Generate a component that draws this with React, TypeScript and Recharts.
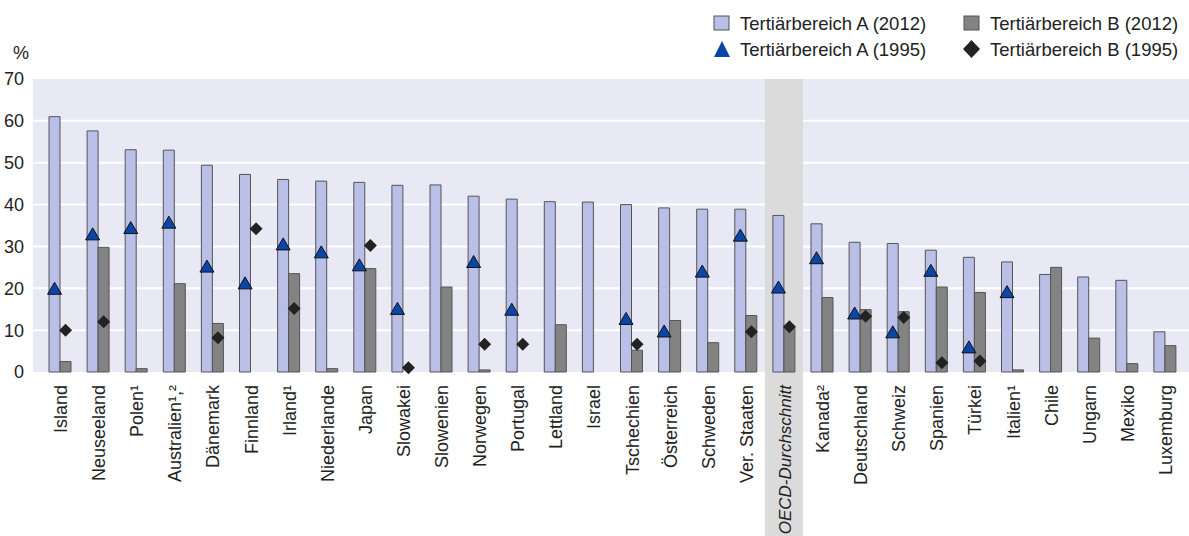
import { ComposedChart, Bar, Line, XAxis, YAxis, CartesianGrid, ReferenceArea } from 'recharts';

const countries = ['Island', 'Neuseeland', 'Polen¹', 'Australien¹,²', 'Dänemark', 'Finnland', 'Irland¹', 'Niederlande', 'Japan', 'Slowakei', 'Slowenien', 'Norwegen', 'Portugal', 'Lettland', 'Israel', 'Tschechien', 'Österreich', 'Schweden', 'Ver. Staaten', 'OECD-Durchschnitt', 'Kanada²', 'Deutschland', 'Schweiz', 'Spanien', 'Türkei', 'Italien¹', 'Chile', 'Ungarn', 'Mexiko', 'Luxemburg'];

const tertA2012 = [61, 57.6, 53.1, 53, 49.4, 47.2, 46, 45.6, 45.3, 44.6, 44.7, 42, 41.3, 40.7, 40.6, 40, 39.2, 38.9, 38.9, 37.4, 35.4, 31, 30.7, 29.1, 27.4, 26.3, 23.3, 22.7, 21.9, 9.6];
const tertB2012 = [2.5, 29.8, 0.8, 21.1, 11.6, null, 23.5, 0.8, 24.7, null, 20.3, 0.5, null, 11.3, null, 5.2, 12.3, 7, 13.5, 10.8, 17.8, 14.9, 14.4, 20.3, 19, 0.5, 25, 8.1, 2, 6.3];
const tertA1995 = [20, 33, 34.5, 35.8, 25.3, 21.3, 30.6, 28.7, 25.6, 15.2, null, 26.4, 15, null, null, 12.8, 9.8, 24.1, 32.7, 20.3, 27.3, 14.1, 9.6, 24.3, 6, 19.2, null, null, null, null];
const tertB1995 = [10, 12, null, null, 8.2, 34.2, 15.2, null, 30.2, 1, null, 6.6, 6.6, null, null, 6.6, null, null, 9.6, 10.8, null, 13.3, 13, 2.2, 2.6, null, null, null, null, null];

const yTicks = [0, 10, 20, 30, 40, 50, 60, 70];

const OECD = 'OECD-Durchschnitt';
const FONT = 'Liberation Sans';
const TEXT = '#222';
const LIGHT = '#b9bfe6';
const DARK = '#838383';
const BLUE = '#0b46a6';
const BAR = 11;

const data = countries.map((c, i) => ({
  country: c,
  a2012: tertA2012[i],
  b2012: tertB2012[i],
  a1995: tertA1995[i],
  b1995: tertB1995[i],
}));

const Triangle = (props: any) => {
  const { cx, cy, value } = props;
  if (value == null || cy == null) return <g key={props.key} />;
  const x = cx - BAR / 2;
  return (
    <path key={props.key} d={`M${x - 7},${cy + 6} L${x},${cy - 6} L${x + 7},${cy + 6} Z`} fill={BLUE} stroke="#111" strokeWidth={1} />
  );
};

const Diamond = (props: any) => {
  const { cx, cy, value } = props;
  if (value == null || cy == null) return <g key={props.key} />;
  const x = cx + BAR / 2;
  return (
    <path key={props.key} d={`M${x},${cy - 6.5} L${x + 6.5},${cy} L${x},${cy + 6.5} L${x - 6.5},${cy} Z`} fill="#222" />
  );
};

const CountryTick = (props: any) => {
  const { x, y, payload } = props;
  const isOecd = payload.value === OECD;
  return (
    <g>
      <text
        transform={`translate(${x + 7},${y + 5}) rotate(-90)`}
        textAnchor="end"
        fontSize={isOecd ? 17 : 18}
        fontFamily={FONT}
        fontStyle={isOecd ? 'italic' : 'normal'}
        fill={TEXT}
      >
        {payload.value}
      </text>
    </g>
  );
};

const legendItems = [
  { label: 'Tertiärbereich A (2012)', kind: 'light' },
  { label: 'Tertiärbereich B (2012)', kind: 'dark' },
  { label: 'Tertiärbereich A (1995)', kind: 'tri' },
  { label: 'Tertiärbereich B (1995)', kind: 'dia' },
];

const LegendBox = () => (
  <svg width={476} height={64} style={{ fontFamily: FONT, display: 'block' }}>
    {legendItems.map((it, i) => {
      const col = i % 2;
      const row = Math.floor(i / 2);
      const ix = col * 250;
      const iy = row * 26 + 17;
      let icon;
      if (it.kind === 'light') icon = <rect x={ix + 1} y={iy - 7} width={15} height={14} fill={LIGHT} stroke="#555" />;
      else if (it.kind === 'dark') icon = <rect x={ix + 1} y={iy - 7} width={15} height={14} fill={DARK} stroke="#555" />;
      else if (it.kind === 'tri') icon = <path d={`M${ix + 1},${iy + 8} L${ix + 9},${iy - 8} L${ix + 17},${iy + 8} Z`} fill={BLUE} />;
      else icon = <path d={`M${ix + 8.5},${iy - 9} L${ix + 17},${iy} L${ix + 8.5},${iy + 9} L${ix},${iy} Z`} fill="#222" />;
      return (
        <g key={it.label}>
          {icon}
          <text x={ix + 27} y={iy + 6.5} fontSize={18.5} fill={TEXT}>{it.label}</text>
        </g>
      );
    })}
  </svg>
);

export default function App() {
  return (
    <div style={{ position: 'absolute', left: 0, top: 0, width: 1189, height: 536, background: '#fff' }}>
      <ComposedChart
        width={1189}
        height={536}
        data={data}
        margin={{ top: 79, right: 0, left: 0, bottom: 0 }}
        barGap={0}
        style={{ fontFamily: FONT }}
      >
        <CartesianGrid fill="#e9e9f6" stroke="#e9e9f6" vertical={false} horizontal={false} />
        <ReferenceArea x1={OECD} x2={OECD} y1={-40} y2={70} ifOverflow="visible" fill="#dbdbdb" fillOpacity={1} stroke="none" />
        <CartesianGrid vertical={false} stroke="#fff" strokeWidth={2} horizontalValues={[10, 20, 30, 40, 50, 60]} />
        <XAxis
          dataKey="country"
          interval={0}
          height={164}
          axisLine={false}
          tickLine={false}
          tick={<CountryTick />}
          padding={{ left: 8, right: 5 }}
        />
        <YAxis
          domain={[0, 70]}
          ticks={yTicks}
          width={33}
          axisLine={false}
          tickLine={false}
          tickMargin={3}
          tick={{ fontSize: 18, fill: TEXT, fontFamily: FONT }}
          label={() => <text x={13} y={58.5} fontSize={18} fill={TEXT} fontFamily={FONT}>%</text>}
        />
        <Bar dataKey="a2012" barSize={BAR} fill={LIGHT} stroke="#555" strokeWidth={1} isAnimationActive={false} />
        <Bar dataKey="b2012" barSize={BAR} fill={DARK} stroke="#555" strokeWidth={1} isAnimationActive={false} />
        <Line dataKey="a1995" stroke="none" dot={Triangle} activeDot={false} isAnimationActive={false} legendType="none" />
        <Line dataKey="b1995" stroke="none" dot={Diamond} activeDot={false} isAnimationActive={false} legendType="none" />
      </ComposedChart>
      <div style={{ position: 'absolute', left: 713, top: 6 }}>
        <LegendBox />
      </div>
    </div>
  );
}
